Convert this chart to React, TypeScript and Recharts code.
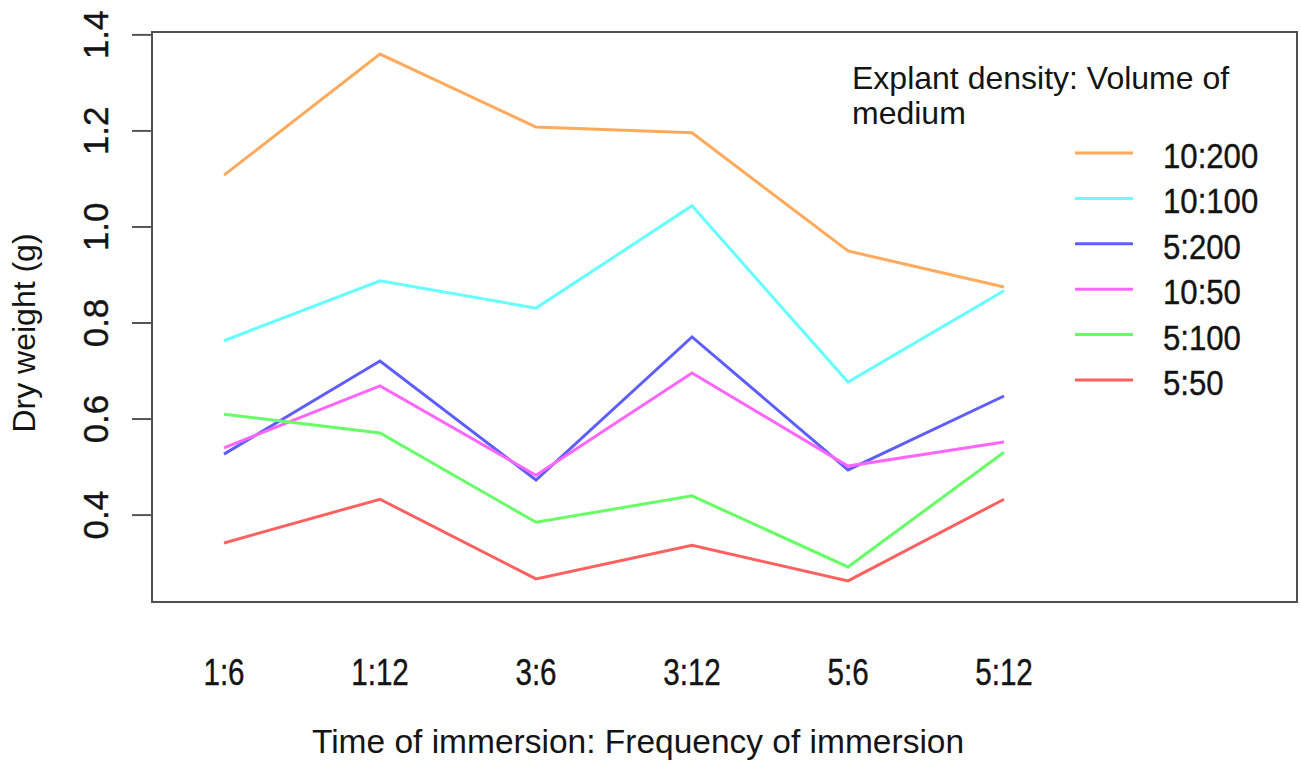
import React from "react";
import { LineChart, Line, XAxis, YAxis, ReferenceArea } from "recharts";

const categories = ["1:6", "1:12", "3:6", "3:12", "5:6", "5:12"];
const s10_200 = [1.108, 1.36, 1.208, 1.196, 0.95, 0.875];
const s10_100 = [0.763, 0.888, 0.831, 1.044, 0.677, 0.867];
const s5_200 = [0.527, 0.721, 0.473, 0.771, 0.494, 0.648];
const s10_50 = [0.54, 0.669, 0.483, 0.696, 0.502, 0.552];
const s5_100 = [0.61, 0.571, 0.385, 0.44, 0.292, 0.531];
const s5_50 = [0.342, 0.433, 0.267, 0.337, 0.263, 0.433];
const yTicks = [0.4, 0.6, 0.8, 1.0, 1.2, 1.4];

const seriesNames = ["10:200", "10:100", "5:200", "10:50", "5:100", "5:50"];
const seriesValues = [s10_200, s10_100, s5_200, s10_50, s5_100, s5_50];
const seriesColors = ["#FFAA5C", "#66FFFF", "#5E5EFF", "#FF66FF", "#66FF66", "#FF6060"];

const data = categories.map((c, i) => {
  const row: Record<string, number | string> = { idx: i, cat: c };
  seriesNames.forEach((n, k) => {
    row[n] = seriesValues[k][i];
  });
  return row;
});

const X_DOMAIN: [number, number] = [-0.4615, 6.878];
const Y_DOMAIN: [number, number] = [0.219, 1.406];
const FONT = "'Liberation Sans', Arial, sans-serif";
const TEXT = "#141414";

const XTick = (props: any) => {
  const { x, y, payload } = props;
  return (
    <text
      transform={`translate(${x} ${y + 83}) scale(0.8 1)`}
      textAnchor="middle"
      fontFamily={FONT}
      fontSize={37}
      fill={TEXT}
      stroke={TEXT}
      strokeWidth={0.4}
    >
      {categories[payload.value]}
    </text>
  );
};

const YTick = (props: any) => {
  const { x, y, payload } = props;
  return (
    <text
      x={x}
      y={y}
      transform={`rotate(-90 ${x} ${y})`}
      textAnchor="middle"
      fontFamily={FONT}
      fontSize={35}
      fill={TEXT}
      stroke={TEXT}
      strokeWidth={0.4}
    >
      {Number(payload.value).toFixed(1)}
    </text>
  );
};

export default function App() {
  return (
    <div style={{ position: "absolute", left: 0, top: 0, width: 1301, height: 762, background: "#fff" }}>
      <LineChart
        width={1301}
        height={762}
        data={data}
        margin={{ top: 32, right: 4, bottom: 0, left: 72 }}
      >
        <XAxis
          dataKey="idx"
          type="number"
          domain={X_DOMAIN}
          ticks={[0, 1, 2, 3, 4, 5]}
          allowDataOverflow
          axisLine={false}
          tickLine={false}
          tickSize={0}
          tickMargin={0}
          height={160}
          tick={<XTick />}
          interval={0}
        />
        <YAxis
          type="number"
          domain={Y_DOMAIN}
          ticks={yTicks}
          allowDataOverflow
          width={80}
          axisLine={false}
          tickLine={{ stroke: "#555", strokeWidth: 2 }}
          tickSize={20}
          tickMargin={24}
          tick={<YTick />}
          interval={0}
        />
        <ReferenceArea
          x1={X_DOMAIN[0]}
          x2={X_DOMAIN[1]}
          y1={Y_DOMAIN[0]}
          y2={Y_DOMAIN[1]}
          fill="none"
          stroke="#505050"
          strokeWidth={2}
          ifOverflow="visible"
        />
        {seriesNames.map((n, k) => (
          <Line
            key={n}
            dataKey={n}
            stroke={seriesColors[k]}
            strokeWidth={3}
            dot={false}
            activeDot={false}
            type="linear"
            isAnimationActive={false}
          />
        ))}
      </LineChart>
      <svg
        width={1301}
        height={762}
        style={{ position: "absolute", left: 0, top: 0, pointerEvents: "none" }}
      >
        <text
          x={35}
          y={333}
          transform="rotate(-90 35 333)"
          textAnchor="middle"
          fontFamily={FONT}
          fontSize={32}
          fill={TEXT}
        >
          Dry weight (g)
        </text>
        <text x={638} y={753} textAnchor="middle" fontFamily={FONT} fontSize={33.5} fill={TEXT}>
          Time of immersion: Frequency of immersion
        </text>
        <text x={852} y={89} fontFamily={FONT} fontSize={32} fill={TEXT}>
          Explant density: Volume of
        </text>
        <text x={852} y={124} fontFamily={FONT} fontSize={32} fill={TEXT}>
          medium
        </text>
        {seriesNames.map((n, k) => (
          <g key={n}>
            <line
              x1={1075}
              x2={1133}
              y1={153 + k * 45.4}
              y2={153 + k * 45.4}
              stroke={seriesColors[k]}
              strokeWidth={3}
            />
            <text
              transform={`translate(1163 ${168 + k * 45.4}) scale(0.89 1)`}
              fontFamily={FONT}
              fontSize={35}
              fill={TEXT}
              stroke={TEXT}
              strokeWidth={0.4}
            >
              {n}
            </text>
          </g>
        ))}
      </svg>
    </div>
  );
}
